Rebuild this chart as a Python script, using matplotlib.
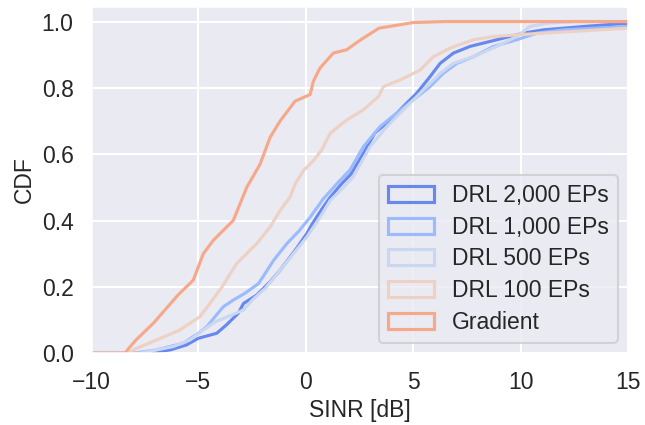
import matplotlib
matplotlib.use("Agg")
import matplotlib.pyplot as plt
from matplotlib.patches import Patch
import seaborn as sns

# CDF curves (SINR in dB, cumulative fraction)
labels = ["DRL 2,000 EPs", "DRL 1,000 EPs", "DRL 500 EPs", "DRL 100 EPs", "Gradient"]
colors = ["#6788ee", "#9abbff", "#c9d7f0", "#edd1c2", "#f7a889"]

drl2000_x = [-10, -7.4, -6.3, -5.55, -5.0, -4.15, -3.7, -3.15, -2.9, -2.29, -1.67, -1.2, -0.5, 0.04,
             0.3, 0.75, 1.13, 1.65, 2.1, 2.68, 3.2, 3.92, 4.54, 5.16, 5.78, 6.25, 6.87, 7.64, 8.88,
             10.12, 11.06, 12.92, 15]
drl2000_y = [0, 0, 0.01, 0.025, 0.045, 0.06, 0.085, 0.12, 0.15, 0.175, 0.215, 0.25, 0.31, 0.36,
             0.39, 0.435, 0.47, 0.51, 0.54, 0.603, 0.663, 0.703, 0.744, 0.784, 0.834, 0.874, 0.905,
             0.925, 0.945, 0.965, 0.975, 0.985, 0.995]

drl1000_x = [-10, -8.0, -6.94, -5.70, -5.0, -4.61, -4.1, -3.84, -3.38, -2.85, -2.2, -1.5, -0.89,
             -0.3, 0.2, 0.81, 1.5, 2.06, 2.68, 3.45, 4.23, 5.0, 5.78, 6.40, 7.03, 7.80, 8.73, 9.81,
             10.74, 11.99, 15]
drl1000_y = [0, 0, 0.01, 0.03, 0.06, 0.08, 0.12, 0.14, 0.16, 0.18, 0.21, 0.28, 0.33, 0.37, 0.41,
             0.465, 0.515, 0.553, 0.623, 0.683, 0.724, 0.764, 0.804, 0.844, 0.874, 0.894, 0.925,
             0.945, 0.965, 0.975, 0.985]

drl500_x = [-10, -7.7, -6.17, -5.39, -4.77, -4.2, -3.45, -2.91, -2.5, -1.9, -1.2, -0.58, 0.04, 0.66,
            1.13, 1.75, 2.2, 2.99, 3.76, 4.70, 5.47, 6.25, 6.87, 7.80, 8.88, 9.81, 10.43, 11.2, 12.6,
            15]
drl500_y = [0, 0, 0.02, 0.04, 0.07, 0.095, 0.115, 0.13, 0.16, 0.195, 0.25, 0.30, 0.35, 0.41, 0.46,
            0.50, 0.532, 0.623, 0.683, 0.744, 0.794, 0.844, 0.874, 0.894, 0.925, 0.955, 0.985, 0.995,
            1.0, 1.0]

drl100_x = [-10, -8.3, -8.03, -6.94, -5.86, -4.93, -4.46, -3.9, -3.22, -2.29, -1.67, -1.2, -0.74,
            -0.5, -0.12, 0.35, 0.74, 1.13, 1.90, 2.68, 3.38, 3.61, 4.39, 5.32, 5.94, 6.71, 7.80, 8.73,
            10.28, 15]
drl100_y = [0, 0, 0.01, 0.04, 0.07, 0.11, 0.15, 0.20, 0.27, 0.33, 0.38, 0.43, 0.47, 0.51, 0.55,
            0.58, 0.613, 0.663, 0.703, 0.734, 0.774, 0.804, 0.824, 0.854, 0.894, 0.92, 0.945, 0.955,
            0.962, 0.98]

gradient_x = [-10, -8.4, -8.3, -7.9, -7.1, -5.94, -5.24, -4.77, -4.31, -3.38, -2.75, -2.13, -1.9,
              -1.67, -1.2, -0.5, 0.2, 0.35, 0.66, 1.28, 1.9, 2.6, 3.4, 5.0, 6.5, 15]
gradient_y = [0, 0, 0.01, 0.04, 0.09, 0.176, 0.22, 0.30, 0.34, 0.40, 0.50, 0.57, 0.61, 0.65, 0.70,
              0.76, 0.78, 0.82, 0.86, 0.905, 0.915, 0.947, 0.98, 0.997, 1.0, 1.0]

series = [(drl2000_x, drl2000_y), (drl1000_x, drl1000_y), (drl500_x, drl500_y),
          (drl100_x, drl100_y), (gradient_x, gradient_y)]

sns.set_theme(style="darkgrid", context="talk")
plt.rcParams['font.family'] = ['Liberation Sans', 'DejaVu Sans']

fig, ax = plt.subplots(figsize=(6.45, 4.25), dpi=100)
fig.subplots_adjust(left=0.141, right=0.974, top=0.986, bottom=0.169)

for (x, y), c in zip(series, colors):
    ax.plot(x, y, color=c, linewidth=2.25)

ax.set_xlim(-10, 15)
ax.set_ylim(0, 1.047)
ax.set_xticks([-10, -5, 0, 5, 10, 15])
ax.set_yticks([0.0, 0.2, 0.4, 0.6, 0.8, 1.0])
ax.tick_params(labelsize=16.5)
ax.set_xlabel("SINR [dB]", fontsize=16.5)
ax.set_ylabel("CDF", fontsize=16.5)

handles = [Patch(facecolor='none', edgecolor=c, linewidth=2.25, label=l)
           for c, l in zip(colors, labels)]
ax.legend(handles=handles, loc='lower right', fontsize=16.5, labelspacing=0.38,
          borderaxespad=0.45)

fig.savefig("out.png", dpi=100)
